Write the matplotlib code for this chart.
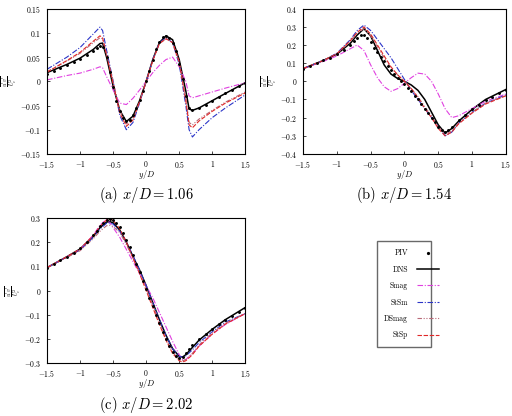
import numpy as np
import matplotlib.pyplot as plt
from matplotlib.lines import Line2D

plt.rcParams['font.family'] = 'serif'
plt.rcParams['font.serif'] = ['cmr10', 'DejaVu Serif']
plt.rcParams['mathtext.fontset'] = 'cm'
plt.rcParams['axes.formatter.use_mathtext'] = True

# ---- panel (a) x/D = 1.06 ----
ya = [-1.5, -1.2, -1.0, -0.8, -0.7, -0.66, -0.6, -0.5, -0.4, -0.3, -0.2, -0.1, 0.0,
      0.1, 0.2, 0.3, 0.4, 0.5, 0.6, 0.65, 0.7, 0.8, 1.0, 1.2, 1.5]
a_dns = [0.018, 0.035, 0.048, 0.066, 0.078, 0.079, 0.05, -0.01, -0.06, -0.083, -0.072, -0.04, 0.0,
         0.045, 0.08, 0.094, 0.086, 0.045, -0.02, -0.057, -0.06, -0.055, -0.04, -0.025, -0.003]
a_smag = [0.003, 0.012, 0.017, 0.025, 0.03, 0.028, 0.01, -0.018, -0.045, -0.048, -0.035, -0.018, 0.0,
          0.018, 0.033, 0.045, 0.05, 0.03, 0.0, -0.03, -0.034, -0.03, -0.022, -0.014, -0.003]
a_stsm = [0.025, 0.05, 0.07, 0.098, 0.112, 0.105, 0.065, 0.0, -0.07, -0.1, -0.085, -0.045, 0.0,
          0.045, 0.08, 0.09, 0.08, 0.035, -0.05, -0.1, -0.115, -0.1, -0.075, -0.055, -0.028]
a_dsmag = [0.02, 0.042, 0.058, 0.08, 0.09, 0.088, 0.055, 0.0, -0.06, -0.088, -0.078, -0.042, 0.0,
           0.043, 0.078, 0.088, 0.08, 0.04, -0.035, -0.085, -0.09, -0.078, -0.06, -0.043, -0.022]
a_stsp = [0.019, 0.043, 0.06, 0.083, 0.094, 0.09, 0.055, -0.005, -0.065, -0.093, -0.08, -0.042, 0.0,
          0.043, 0.078, 0.088, 0.08, 0.04, -0.04, -0.09, -0.096, -0.082, -0.062, -0.045, -0.024]
ya_piv = [-1.5, -1.4, -1.3, -1.2, -1.1, -1.0, -0.9, -0.8, -0.75, -0.7, -0.65, -0.6, -0.55, -0.5, -0.45,
          -0.4, -0.35, -0.3, -0.25, -0.2, -0.15, -0.1, -0.05, 0.0, 0.05, 0.1, 0.15, 0.2, 0.25, 0.3, 0.35,
          0.4, 0.45, 0.5, 0.55, 0.6, 0.65, 0.7, 0.8, 0.9, 1.0, 1.1, 1.2, 1.3, 1.4, 1.5]
a_piv = [0.016, 0.022, 0.028, 0.034, 0.04, 0.046, 0.054, 0.063, 0.069, 0.074, 0.07, 0.05, 0.02, -0.012, -0.04,
         -0.062, -0.076, -0.082, -0.08, -0.07, -0.056, -0.038, -0.019, 0.0, 0.022, 0.045, 0.066, 0.082, 0.092, 0.094,
         0.09, 0.08, 0.062, 0.036, 0.005, -0.03, -0.055, -0.06, -0.055, -0.048, -0.04, -0.033, -0.025, -0.017, -0.01, -0.003]

# ---- panel (b) x/D = 1.54 ----
yb = [-1.5, -1.2, -1.0, -0.8, -0.7, -0.6, -0.5, -0.4, -0.3, -0.2, -0.1, 0.0, 0.1, 0.2, 0.3,
      0.4, 0.5, 0.6, 0.7, 0.8, 1.0, 1.2, 1.5]
b_dns = [0.07, 0.115, 0.15, 0.21, 0.255, 0.29, 0.25, 0.17, 0.09, 0.04, 0.015, 0.0, -0.02, -0.05, -0.1,
         -0.17, -0.24, -0.285, -0.26, -0.22, -0.155, -0.1, -0.045]
b_smag = [0.07, 0.11, 0.14, 0.18, 0.2, 0.17, 0.09, 0.02, -0.03, -0.055, -0.04, -0.01, 0.02, 0.045, 0.04,
          0.0, -0.07, -0.15, -0.2, -0.19, -0.15, -0.11, -0.07]
b_stsm = [0.07, 0.115, 0.155, 0.23, 0.28, 0.31, 0.28, 0.23, 0.18, 0.13, 0.07, 0.01, -0.05, -0.1, -0.15,
          -0.2, -0.25, -0.3, -0.28, -0.23, -0.17, -0.12, -0.075]
b_dsmag = [0.07, 0.115, 0.15, 0.22, 0.265, 0.29, 0.25, 0.19, 0.13, 0.075, 0.035, 0.0, -0.04, -0.085, -0.14,
           -0.19, -0.25, -0.29, -0.275, -0.23, -0.17, -0.12, -0.078]
b_stsp = [0.07, 0.115, 0.152, 0.225, 0.27, 0.3, 0.26, 0.2, 0.14, 0.08, 0.035, 0.0, -0.04, -0.09, -0.15,
          -0.2, -0.26, -0.3, -0.28, -0.235, -0.175, -0.125, -0.08]
yb_piv = [-1.5, -1.4, -1.3, -1.2, -1.1, -1.0, -0.9, -0.8, -0.75, -0.7, -0.65, -0.6, -0.55, -0.5, -0.45, -0.4,
          -0.35, -0.3, -0.25, -0.2, -0.15, -0.1, -0.05, 0.0, 0.05, 0.1, 0.15, 0.2, 0.25, 0.3, 0.35, 0.4, 0.45,
          0.5, 0.55, 0.6, 0.65, 0.7, 0.8, 0.9, 1.0, 1.1, 1.2, 1.3, 1.4, 1.5]
b_piv = [0.068, 0.085, 0.1, 0.115, 0.13, 0.148, 0.17, 0.2, 0.22, 0.24, 0.255, 0.255, 0.24, 0.215, 0.185, 0.16,
         0.135, 0.11, 0.085, 0.06, 0.04, 0.02, 0.0, -0.015, -0.035, -0.055, -0.08, -0.1, -0.125, -0.15, -0.175,
         -0.2, -0.225, -0.25, -0.27, -0.28, -0.27, -0.25, -0.215, -0.185, -0.155, -0.13, -0.105, -0.085, -0.065, -0.048]

# ---- panel (c) x/D = 2.02 ----
yc = [-1.5, -1.2, -1.0, -0.8, -0.7, -0.6, -0.55, -0.5, -0.4, -0.3, -0.2, -0.1, 0.0, 0.1, 0.2, 0.3,
      0.4, 0.5, 0.55, 0.6, 0.7, 0.8, 1.0, 1.2, 1.5]
c_dns = [0.095, 0.14, 0.172, 0.225, 0.26, 0.283, 0.285, 0.28, 0.25, 0.2, 0.14, 0.085, 0.02, -0.05, -0.12, -0.185,
         -0.24, -0.272, -0.275, -0.265, -0.235, -0.205, -0.16, -0.12, -0.07]
c_smag = [0.095, 0.14, 0.17, 0.23, 0.27, 0.295, 0.28, 0.26, 0.22, 0.17, 0.12, 0.07, 0.02, -0.03, -0.09, -0.15,
          -0.21, -0.265, -0.285, -0.285, -0.26, -0.23, -0.18, -0.14, -0.095]
c_stsm = [0.095, 0.138, 0.168, 0.22, 0.255, 0.278, 0.28, 0.275, 0.245, 0.2, 0.145, 0.085, 0.02, -0.05, -0.12, -0.185,
          -0.24, -0.272, -0.275, -0.27, -0.245, -0.215, -0.17, -0.13, -0.095]
c_dsmag = [0.095, 0.137, 0.165, 0.215, 0.245, 0.268, 0.27, 0.265, 0.24, 0.19, 0.135, 0.075, 0.01, -0.06, -0.13, -0.2,
           -0.255, -0.285, -0.29, -0.285, -0.26, -0.225, -0.175, -0.135, -0.095]
c_stsp = [0.095, 0.14, 0.172, 0.228, 0.265, 0.292, 0.296, 0.29, 0.255, 0.2, 0.135, 0.07, 0.0, -0.07, -0.14, -0.205,
          -0.26, -0.29, -0.295, -0.29, -0.265, -0.23, -0.18, -0.138, -0.095]
yc_piv = [-1.5, -1.4, -1.3, -1.2, -1.1, -1.0, -0.9, -0.8, -0.75, -0.7, -0.65, -0.6, -0.55, -0.5, -0.45, -0.4,
          -0.35, -0.3, -0.25, -0.2, -0.15, -0.1, -0.05, 0.0, 0.05, 0.1, 0.15, 0.2, 0.25, 0.3, 0.35, 0.4, 0.45,
          0.5, 0.55, 0.6, 0.65, 0.7, 0.8, 0.9, 1.0, 1.1, 1.2, 1.3, 1.4, 1.5]
c_piv = [0.095, 0.11, 0.125, 0.14, 0.157, 0.175, 0.2, 0.23, 0.248, 0.265, 0.28, 0.29, 0.295, 0.29, 0.28, 0.262,
         0.24, 0.21, 0.18, 0.145, 0.11, 0.075, 0.04, 0.005, -0.03, -0.065, -0.1, -0.135, -0.17, -0.2, -0.23, -0.255,
         -0.27, -0.28, -0.275, -0.26, -0.24, -0.225, -0.2, -0.18, -0.16, -0.14, -0.122, -0.105, -0.088, -0.072]

styles = {
    'DNS':   dict(color='black', lw=1.1, ls='-'),
    'Smag':  dict(color='#e040e0', lw=0.8, ls=(0, (5, 1.5, 1, 1.5))),
    'StSm':  dict(color='#2b35c8', lw=0.8, ls=(0, (5, 1.5, 1, 1.5))),
    'DSmag': dict(color='#b86a78', lw=0.8, ls=(0, (4, 1.5, 1, 1.5, 1, 1.5))),
    'StSp':  dict(color='#e02828', lw=0.8, ls=(0, (4, 1.5))),
}

panels = [
    ([0.092, 0.630, 0.387, 0.349], ya, [a_dns, a_smag, a_stsm, a_dsmag, a_stsp], ya_piv, a_piv,
     (-0.15, 0.15), [-0.15, -0.1, -0.05, 0, 0.05, 0.1, 0.15], r'(a) $x/D = 1.06$'),
    ([0.592, 0.630, 0.396, 0.349], yb, [b_dns, b_smag, b_stsm, b_dsmag, b_stsp], yb_piv, b_piv,
     (-0.4, 0.4), [-0.4, -0.3, -0.2, -0.1, 0, 0.1, 0.2, 0.3, 0.4], r'(b) $x/D = 1.54$'),
    ([0.092, 0.127, 0.387, 0.349], yc, [c_dns, c_smag, c_stsm, c_dsmag, c_stsp], yc_piv, c_piv,
     (-0.3, 0.3), [-0.3, -0.2, -0.1, 0, 0.1, 0.2, 0.3], r'(c) $x/D = 2.02$'),
]

fig = plt.figure(figsize=(5.12, 4.16), dpi=100)
names = ['DNS', 'Smag', 'StSm', 'DSmag', 'StSp']

for rect, y, curves, ypiv, piv, ylim, yticks, cap in panels:
    ax = fig.add_axes(rect)
    for name, v in zip(names, curves):
        ax.plot(y, v, **styles[name])
    ax.plot(ypiv, piv, ls='none', marker='o', ms=1.1, color='black')
    ax.set_xlim(-1.5, 1.5)
    ax.set_ylim(*ylim)
    ax.set_xticks([-1.5, -1, -0.5, 0, 0.5, 1, 1.5])
    ax.set_xticklabels(['$-1.5$', '$-1$', '$-0.5$', '$0$', '$0.5$', '$1$', '$1.5$'])
    ax.set_yticks(yticks)
    ax.set_yticklabels(['$%g$' % t for t in yticks])
    ax.tick_params(direction='in', length=2, width=0.5, labelsize=5.5)
    ax.tick_params(axis='x', pad=3.5)
    ax.tick_params(axis='y', pad=4)
    for s in ax.spines.values():
        s.set_linewidth(0.8)
    ax.set_xlabel('$y/D$', fontsize=6)
    ax.xaxis.set_label_coords(0.5, -0.095)
    ax.set_ylabel(r"$\frac{\overline{u'v'}}{U_c^2}$", fontsize=6, labelpad=1)
    ax.text(0.5, -0.285, cap, transform=ax.transAxes, ha='center', va='center', fontsize=10.5)

# legend box
lax = fig.add_axes([0.728, 0.172, 0.122, 0.242])
lax.axis('off')
handles = [Line2D([], [], ls='none', marker='o', ms=1.3, color='black')]
handles += [Line2D([], [], **styles[n]) for n in names]
lax.legend(handles, ['PIV'] + names, loc='center', markerfirst=False, fontsize=5.5,
           frameon=True, fancybox=False, edgecolor='#444444', handlelength=2.8,
           labelspacing=1.05, borderpad=1.0, handletextpad=1.2, mode='expand',
           bbox_to_anchor=(0, 0, 1, 1))

fig.savefig('out.png', dpi=100)
